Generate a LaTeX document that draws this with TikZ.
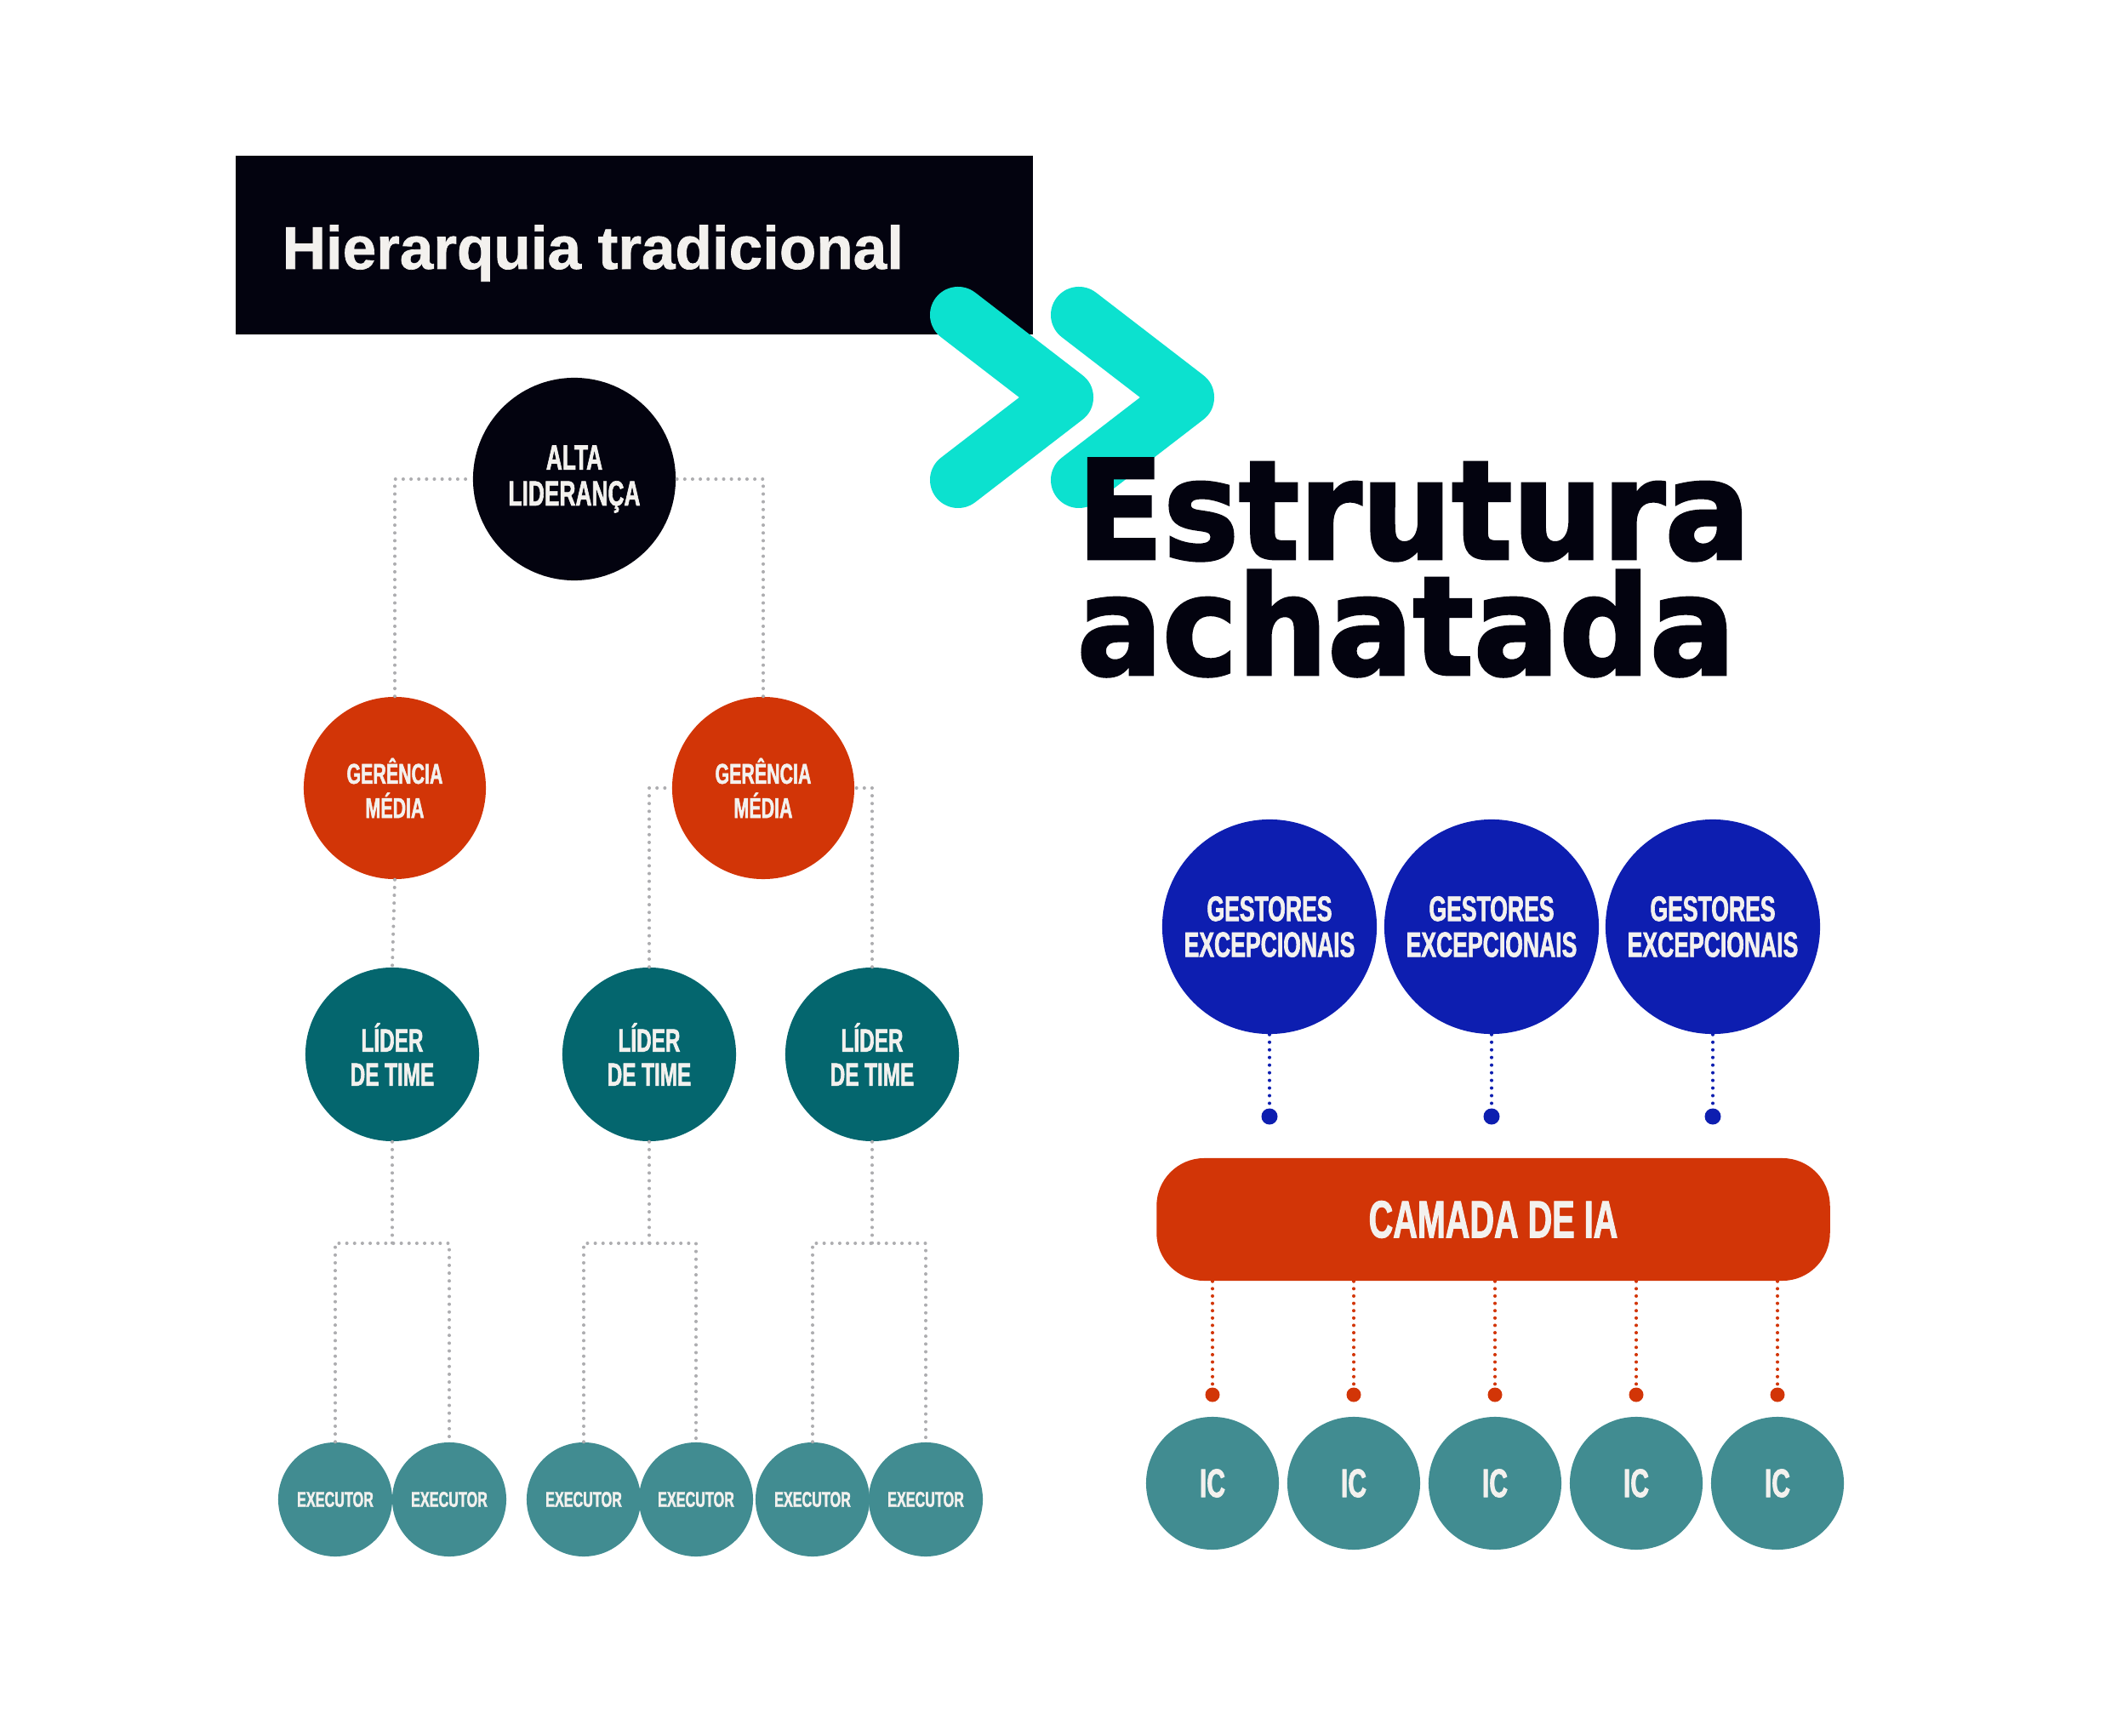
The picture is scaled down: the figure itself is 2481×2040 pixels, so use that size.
\documentclass[tikz,border=0pt]{standalone}
\usepackage{fontspec}
\setmainfont{Liberation Sans}
\newfontfamily\titlefont[FakeBold=1]{Liberation Sans}
\newfontfamily\labelfont[FakeStretch=0.64, FakeBold=1.5]{Liberation Sans}
\newfontfamily\headfont[FakeStretch=0.92, FakeBold=2]{DejaVu Sans}
\usepackage{tikz}
\definecolor{inkdark}{HTML}{03030F}
\definecolor{rust}{HTML}{D23507}
\definecolor{deepteal}{HTML}{04666E}
\definecolor{softteal}{HTML}{418C91}
\definecolor{royal}{HTML}{0D1EB0}
\definecolor{aqua}{HTML}{0CE1CF}
\definecolor{dotgray}{HTML}{ADADB0}
\definecolor{offwhite}{HTML}{F3F1EE}
\tikzset{
    bubble/.style={circle, inner sep=0pt, align=center, text=offwhite},
    alta/.style={bubble, fill=inkdark, minimum size=2.38cm, font=\labelfont\bfseries\fontsize{11.7}{12}\selectfont},
    gerencia/.style={bubble, fill=rust, minimum size=2.14cm, font=\labelfont\bfseries\fontsize{9.5}{11.4}\selectfont},
    lider/.style={bubble, fill=deepteal, minimum size=2.04cm, font=\labelfont\bfseries\fontsize{10.8}{11.4}\selectfont},
    executor/.style={bubble, fill=softteal, minimum size=1.34cm, font=\labelfont\bfseries\fontsize{7.2}{8}\selectfont},
    gestor/.style={bubble, fill=royal, minimum size=2.52cm, font=\labelfont\bfseries\fontsize{11.8}{12}\selectfont},
    icnode/.style={bubble, fill=softteal, minimum size=1.56cm, font=\labelfont\bfseries\fontsize{13.4}{14}\selectfont},
    link/.style={dotgray, line width=1.15pt, line cap=round, dash pattern=on 0pt off 2.6pt},
    bluelink/.style={royal, line width=1.15pt, line cap=round, dash pattern=on 0pt off 2.55pt},
    redlink/.style={rust, line width=1.15pt, line cap=round, dash pattern=on 0pt off 2.45pt},
    bluedot/.style={circle, fill=royal, inner sep=0pt, minimum size=0.19cm},
    reddot/.style={circle, fill=rust, inner sep=0pt, minimum size=0.17cm},
    chev/.style={aqua, line width=0.66cm, line cap=round, line join=round},
    headline/.style={anchor=west, inner sep=0pt, align=left, text=inkdark, font=\headfont\bfseries\fontsize{46}{38.7}\selectfont}
}
\begin{document}
\begin{tikzpicture}[x=0.01cm, y=-0.01cm]
            \useasboundingbox (0,0) rectangle (2481,2040);

            \node[fill=inkdark, anchor=north west, inner sep=0pt, minimum width=9.37cm, minimum height=2.10cm] (titlebox) at (276,182) {};
            \node[anchor=base west, inner sep=0pt, text=offwhite, font=\titlefont\bfseries\fontsize{20.2}{20}\selectfont] (titletext) at (331,316) {Hierarquia tradicional};

            \draw [chev] (1126,370) -- (1252,467) -- (1126,564);
            \draw [chev] (1268,370) -- (1394,467) -- (1268,564);

            \node[headline] (head) at (1265,667) {Estrutura\\achatada};

            \node[alta] at (675,563)      (top) {ALTA\\LIDERANÇA};
            \node[gerencia] at (464,926)  (g1) {GERÊNCIA\\MÉDIA};
            \node[gerencia] at (897,926)  (g2) {GERÊNCIA\\MÉDIA};
            \node[lider] at (461,1239)    (l1) {LÍDER\\DE TIME};
            \node[lider] at (763,1239)    (l2) {LÍDER\\DE TIME};
            \node[lider] at (1025,1239)   (l3) {LÍDER\\DE TIME};
            \node[executor] at (394,1762)  (e1) {EXECUTOR};
            \node[executor] at (528,1762)  (e2) {EXECUTOR};
            \node[executor] at (686,1762)  (e3) {EXECUTOR};
            \node[executor] at (818,1762)  (e4) {EXECUTOR};
            \node[executor] at (955,1762)  (e5) {EXECUTOR};
            \node[executor] at (1088,1762) (e6) {EXECUTOR};
            \coordinate (j1) at (461,1461);
            \coordinate (j2) at (763,1461);
            \coordinate (j3) at (1025,1461);

            \draw [link] (g1.north) |- (top.west);
            \draw [link] (g2.north) |- (top.east);
            \draw [link] (g1.south) -- (l1.north);
            \draw [link] (l2.north) |- (g2.west);
            \draw [link] (l3.north) |- (g2.east);
            \draw [link] (l1.south) -- (j1);
            \draw [link] (l2.south) -- (j2);
            \draw [link] (l3.south) -- (j3);
            \draw [link] (e1.north) |- (j1) -| (e2.north);
            \draw [link] (e3.north) |- (j2) -| (e4.north);
            \draw [link] (e5.north) |- (j3) -| (e6.north);

            \node[gestor] at (1492,1089) (m1) {GESTORES\\EXCEPCIONAIS};
            \node[gestor] at (1753,1089) (m2) {GESTORES\\EXCEPCIONAIS};
            \node[gestor] at (2013,1089) (m3) {GESTORES\\EXCEPCIONAIS};
            \node[bluedot] at (1492,1312) (b1) {};
            \node[bluedot] at (1753,1312) (b2) {};
            \node[bluedot] at (2013,1312) (b3) {};
            \node[fill=rust, rounded corners=0.56cm, inner sep=0pt, minimum width=7.91cm, minimum height=1.44cm, text=offwhite, font=\labelfont\bfseries\fontsize{17.6}{18}\selectfont] at (1755,1433) (ia) {CAMADA DE IA};
            \node[reddot] at (1425,1639) (r1) {};
            \node[reddot] at (1591,1639) (r2) {};
            \node[reddot] at (1757,1639) (r3) {};
            \node[reddot] at (1923,1639) (r4) {};
            \node[reddot] at (2089,1639) (r5) {};
            \node[icnode] at (1425,1743) (c1) {IC};
            \node[icnode] at (1591,1743) (c2) {IC};
            \node[icnode] at (1757,1743) (c3) {IC};
            \node[icnode] at (1923,1743) (c4) {IC};
            \node[icnode] at (2089,1743) (c5) {IC};

            \draw [bluelink] (m1.south) -- (b1);
            \draw [bluelink] (m2.south) -- (b2);
            \draw [bluelink] (m3.south) -- (b3);
            \draw [redlink] (r1 |- ia.south) -- (r1);
            \draw [redlink] (r2 |- ia.south) -- (r2);
            \draw [redlink] (r3 |- ia.south) -- (r3);
            \draw [redlink] (r4 |- ia.south) -- (r4);
            \draw [redlink] (r5 |- ia.south) -- (r5);
        \end{tikzpicture}
\end{document}
